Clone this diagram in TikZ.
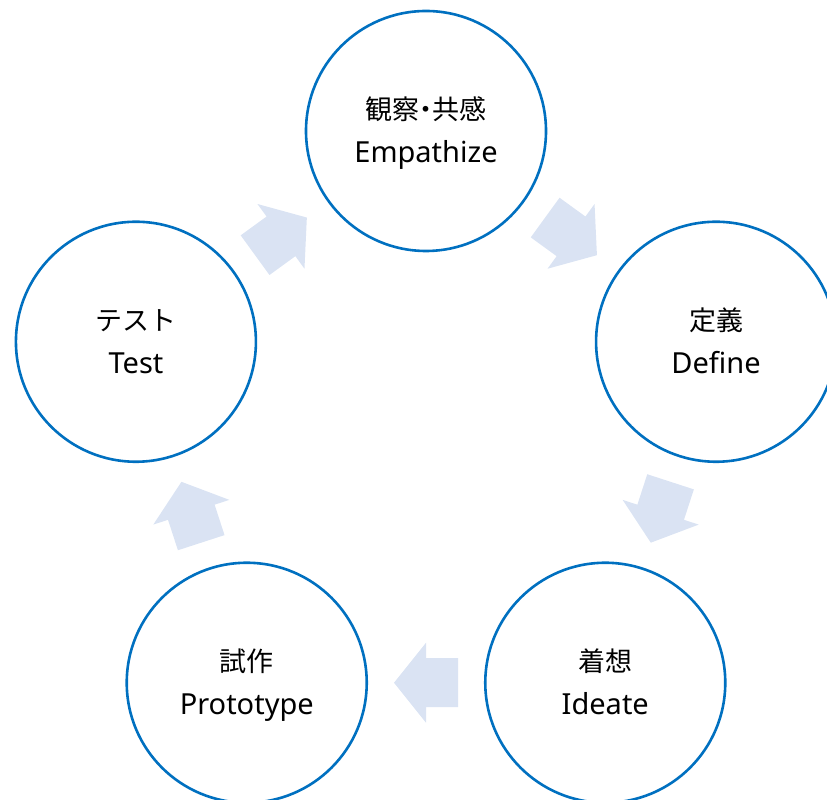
\documentclass[tikz,border=0pt]{standalone}
\usepackage{fontspec}
\setmainfont{Noto Sans}
\newfontfamily\jpfont{Noto Sans CJK JP}
\usetikzlibrary{calc}
\definecolor{ringblue}{HTML}{0070C0}
\definecolor{arrowfill}{HTML}{DAE3F3}
\tikzset{
  stage/.style={circle, draw=ringblue, line width=2.6pt, fill=white,
    minimum size=240pt, inner sep=0pt, outer sep=0pt},
  jplabel/.style={anchor=base, inner sep=0pt, font=\jpfont\fontsize{27}{30}\selectfont},
  enlabel/.style={anchor=base, inner sep=0pt, font=\fontsize{29}{34}\selectfont},
  blockarrow/.style={fill=arrowfill, draw=none}
}
\newcommand{\cyclearrow}[3]{%
  \fill[blockarrow, shift={($(#1)!0.5!(#2)$)}, rotate=#3]
    (-32,24.5) -- (0,24.5) -- (0,40) -- (32,0) -- (0,-40) -- (0,-24.5) -- (-32,-24.5) -- cycle;}
\newcommand{\stagenode}[4]{%
  \node[stage] (#1) at (#2) {};
  \node[jplabel] (#1-jp) at ($(#1.center)+(0,11)$) {#3};
  \node[enlabel] (#1-en) at ($(#1.center)+(0,-32)$) {#4};}
\begin{document}
\begin{tikzpicture}[x=1pt,y=1pt]
\useasboundingbox (0,0) rectangle (827,800);
\coordinate (O) at (426,364);
\coordinate (pt) at ($(O)+(90:305)$);
\coordinate (pr) at ($(O)+(18:305)$);
\coordinate (pbr) at ($(O)+(-54:305)$);
\coordinate (pbl) at ($(O)+(-126:305)$);
\coordinate (pl) at ($(O)+(162:305)$);
\cyclearrow{pt}{pr}{-36}
\cyclearrow{pr}{pbr}{-108}
\cyclearrow{pbr}{pbl}{180}
\cyclearrow{pbl}{pl}{108}
\cyclearrow{pl}{pt}{36}
\stagenode{emp}{pt}{観察\hspace{-0.25em}・\hspace{-0.25em}共感}{Empathize}
\stagenode{def}{pr}{定義}{Define}
\stagenode{ide}{pbr}{着想}{Ideate}
\stagenode{pro}{pbl}{試作}{Prototype}
\stagenode{tes}{pl}{テスト}{Test}
\end{tikzpicture}
\end{document}
